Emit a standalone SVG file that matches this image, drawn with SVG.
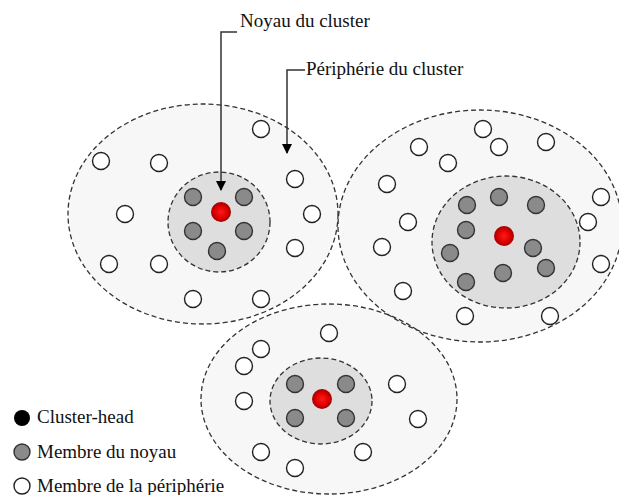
<svg xmlns="http://www.w3.org/2000/svg" width="619" height="495" viewBox="0 0 619 495">
<style>
.bg{fill:#f7f7f7;stroke:none}
.outer{fill:none;stroke:#333;stroke-width:1.3;stroke-dasharray:5 3}
.core{fill:#dedede;stroke:#333;stroke-width:1.3;stroke-dasharray:5 3}
.w{fill:#fff;stroke:#222;stroke-width:1.4}
.g{fill:#8a8a8a;stroke:#333;stroke-width:1.4}
.h{fill:url(#red)}
.lbl{font-family:"Liberation Serif","Times New Roman",serif;font-size:19px;fill:#111}
.ln{stroke:#333;stroke-width:1.5;fill:none}
</style>
<defs>
<radialGradient id="red" cx="0.5" cy="0.5" r="0.5">
<stop offset="0" stop-color="#ff1a1a"/>
<stop offset="0.6" stop-color="#e00000"/>
<stop offset="1" stop-color="#a00000"/>
</radialGradient>
<marker id="arr" markerWidth="10" markerHeight="10" refX="9" refY="5" orient="auto" markerUnits="userSpaceOnUse">
<path d="M0,0 L10,5 L0,10 Z" fill="#000"/>
</marker>
</defs>
<rect width="619" height="495" fill="#fff"/>
<g id="backgrounds">
<ellipse class="bg" cx="203" cy="214" rx="135" ry="110"/>
<ellipse class="bg" cx="480" cy="226" rx="142" ry="116"/>
<ellipse class="bg" cx="329" cy="399" rx="128" ry="95"/>
</g>
<g id="cluster1">
<ellipse class="outer" cx="203" cy="214" rx="135" ry="110"/>
<ellipse class="core" cx="219" cy="222" rx="51" ry="50"/>
<circle class="h" cx="221" cy="212" r="10"/>
<circle class="g" cx="193" cy="197" r="8.5"/>
<circle class="g" cx="244" cy="197" r="8.5"/>
<circle class="g" cx="193" cy="231" r="8.5"/>
<circle class="g" cx="244" cy="231" r="8.5"/>
<circle class="g" cx="217" cy="251" r="8.5"/>
<circle class="w" cx="261" cy="129" r="8.5"/>
<circle class="w" cx="101" cy="161" r="8.5"/>
<circle class="w" cx="159" cy="163" r="8.5"/>
<circle class="w" cx="295" cy="179" r="8.5"/>
<circle class="w" cx="125" cy="214" r="8.5"/>
<circle class="w" cx="312" cy="214" r="8.5"/>
<circle class="w" cx="295" cy="248" r="8.5"/>
<circle class="w" cx="109" cy="264" r="8.5"/>
<circle class="w" cx="159" cy="264" r="8.5"/>
<circle class="w" cx="193" cy="299" r="8.5"/>
<circle class="w" cx="261" cy="299" r="8.5"/>
</g>
<g id="cluster2">
<ellipse class="outer" cx="480" cy="226" rx="142" ry="116"/>
<ellipse class="core" cx="506" cy="242" rx="74" ry="66"/>
<circle class="h" cx="504" cy="236" r="10"/>
<circle class="g" cx="467" cy="205" r="8.5"/>
<circle class="g" cx="499" cy="197" r="8.5"/>
<circle class="g" cx="536" cy="205" r="8.5"/>
<circle class="g" cx="466" cy="230" r="8.5"/>
<circle class="g" cx="450" cy="253" r="8.5"/>
<circle class="g" cx="533" cy="248" r="8.5"/>
<circle class="g" cx="546" cy="268" r="8.5"/>
<circle class="g" cx="503" cy="273" r="8.5"/>
<circle class="g" cx="466" cy="282" r="8.5"/>
<circle class="w" cx="483" cy="129" r="8.5"/>
<circle class="w" cx="419" cy="147" r="8.5"/>
<circle class="w" cx="499" cy="147" r="8.5"/>
<circle class="w" cx="546" cy="142" r="8.5"/>
<circle class="w" cx="448" cy="163" r="8.5"/>
<circle class="w" cx="387" cy="184" r="8.5"/>
<circle class="w" cx="601" cy="197" r="8.5"/>
<circle class="w" cx="408" cy="222" r="8.5"/>
<circle class="w" cx="588" cy="222" r="8.5"/>
<circle class="w" cx="382" cy="247" r="8.5"/>
<circle class="w" cx="601" cy="264" r="8.5"/>
<circle class="w" cx="403" cy="291" r="8.5"/>
<circle class="w" cx="465" cy="316" r="8.5"/>
<circle class="w" cx="550" cy="316" r="8.5"/>
</g>
<g id="cluster3">
<ellipse class="outer" cx="329" cy="399" rx="128" ry="95"/>
<ellipse class="core" cx="321" cy="401" rx="51" ry="43"/>
<circle class="h" cx="322" cy="399" r="10"/>
<circle class="g" cx="295" cy="384" r="8.5"/>
<circle class="g" cx="346" cy="384" r="8.5"/>
<circle class="g" cx="295" cy="418" r="8.5"/>
<circle class="g" cx="346" cy="418" r="8.5"/>
<circle class="w" cx="329" cy="333" r="8.5"/>
<circle class="w" cx="261" cy="349" r="8.5"/>
<circle class="w" cx="244" cy="366" r="8.5"/>
<circle class="w" cx="397" cy="384" r="8.5"/>
<circle class="w" cx="244" cy="401" r="8.5"/>
<circle class="w" cx="418" cy="419" r="8.5"/>
<circle class="w" cx="261" cy="452" r="8.5"/>
<circle class="w" cx="363" cy="452" r="8.5"/>
<circle class="w" cx="295" cy="468" r="8.5"/>
</g>
<g id="connectors">
<path class="ln" d="M237,32 H221 V190" marker-end="url(#arr)"/>
<path class="ln" d="M305,70 H287 V153" marker-end="url(#arr)"/>
</g>
<g id="label-noyau"><text class="lbl" x="240" y="27">Noyau du cluster</text></g>
<g id="label-peripherie"><text class="lbl" x="306" y="75">Périphérie du cluster</text></g>
<g id="legend">
<circle cx="22" cy="418" r="8" fill="#000"/>
<text class="lbl" x="37" y="423">Cluster-head</text>
<circle cx="22" cy="452" r="8" fill="#8a8a8a" stroke="#333" stroke-width="1.4"/>
<text class="lbl" x="37" y="458">Membre du noyau</text>
<circle cx="22" cy="486" r="8" fill="#fff" stroke="#222" stroke-width="1.4"/>
<text class="lbl" x="37" y="492">Membre de la périphérie</text>
</g>
</svg>
